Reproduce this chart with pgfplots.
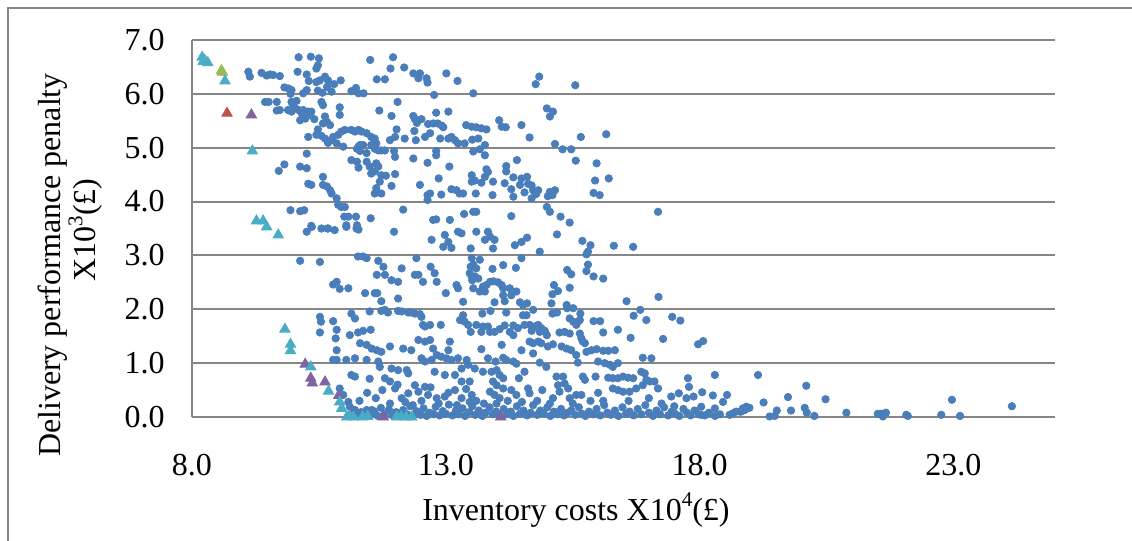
\documentclass[border=0pt]{standalone}
\usepackage{pgfplots}
\pgfplotsset{compat=1.18}
\usepackage{fontspec}
\setmainfont{Liberation Serif}
\definecolor{gridgray}{RGB}{134,134,134}
\definecolor{dotblue}{RGB}{74,126,187}
\definecolor{tcyan}{RGB}{75,172,198}
\definecolor{tgreen}{RGB}{155,187,89}
\definecolor{tred}{RGB}{192,80,77}
\definecolor{tpurple}{RGB}{128,100,162}
\newcommand{\sups}[1]{\raisebox{0.42em}{\fontsize{10.5bp}{10.5bp}\selectfont #1}}
\begin{document}
\begin{tikzpicture}[font=\fontsize{16bp}{17.5bp}\selectfont]
\useasboundingbox (-96bp,-62bp) rectangle (470bp,208.5bp);
\draw[gridgray, line width=0.75bp] (-92bp,-62bp) -- (-92bp,204.5bp) -- (470bp,204.5bp);
\begin{axis}[
  at={(0,0)}, anchor=south west,
  scale only axis, width=431.5bp, height=188.5bp,
  xmin=8, xmax=25, ymin=0, ymax=7,
  xtick={8,13,18,23}, ytick={0,1,...,7},
  axis lines*=left,
  axis line style={-, draw=gridgray, line width=1bp},
  ymajorgrids, grid style={draw=gridgray, line width=1bp},
  major tick length=0pt,
  clip=false,
  /pgf/number format/assume math mode=true,
  /pgf/number format/fixed, /pgf/number format/fixed zerofill, /pgf/number format/precision=1,
  xticklabel style={anchor=base, inner sep=0pt, yshift=-29bp},
  yticklabel style={anchor=east, inner sep=0pt, xshift=-13.5bp},
  xlabel={Inventory costs X10\sups{4}(£)},
  xlabel style={at={(axis description cs:0.4449,0)}, anchor=base, inner sep=0pt, yshift=-51.5bp},
  ylabel={Delivery performance penalty\\\hspace*{35bp}X10\sups{3}(£)},
  ylabel style={at={(axis description cs:-0.1408,0.403)}, anchor=center, align=center, inner sep=0pt},
]
\addplot[only marks, mark=*, mark size=1.85bp, color=dotblue, mark options={draw=dotblue, fill=dotblue}] coordinates {
(10.10,6.68)(10.34,6.69)(10.50,6.66)(10.48,6.53)(10.45,6.47)(11.51,6.63)(11.96,6.68)(11.91,6.47)(12.18,6.49)
(9.11,6.41)(9.14,6.32)(9.37,6.39)(9.54,6.36)(9.60,6.35)(9.73,6.33)(9.47,6.34)(10.08,6.41)(10.26,6.36)(10.30,6.24)
(10.45,6.22)(10.52,6.25)(10.62,6.32)(10.68,6.25)(10.80,6.18)(10.93,6.25)(9.82,6.12)(9.90,6.10)(9.96,6.07)(9.94,6.00)
(10.19,6.01)(10.26,6.07)(10.48,6.06)(10.57,6.02)(10.66,6.13)(10.75,6.04)(11.14,6.05)(11.23,6.11)(11.28,6.01)(11.38,6.01)
(11.64,6.27)(11.80,6.27)(12.36,6.38)(12.49,6.38)(12.46,6.29)(12.62,6.29)(12.64,6.21)(13.01,6.38)(13.23,6.24)(12.77,5.98)
(13.54,6.01)(9.44,5.85)(9.51,5.85)(9.67,5.85)(9.96,5.85)(10.06,5.87)(9.99,5.79)(10.03,5.73)(9.67,5.69)(9.73,5.70)
(9.89,5.70)(9.96,5.67)(10.10,5.70)(10.16,5.64)(10.19,5.70)(10.29,5.67)(10.32,5.61)(10.35,5.67)(10.13,5.51)(10.23,5.54)
(10.41,5.53)(10.55,5.85)(10.58,5.79)(10.91,5.75)(10.91,5.61)(10.62,5.58)(10.66,5.48)(10.72,5.42)(10.58,5.45)(10.48,5.34)
(10.45,5.24)(10.55,5.22)(10.62,5.17)(10.68,5.09)(10.29,5.20)(10.78,5.20)(10.88,5.24)(10.94,5.30)(11.01,5.33)(11.14,5.33)
(11.21,5.30)(11.28,5.33)(11.34,5.30)(11.44,5.27)(11.53,5.20)(11.60,5.17)(10.75,5.14)(10.85,5.08)(10.98,5.02)(11.63,5.08)
(11.53,5.05)(11.60,4.98)(11.67,4.95)(11.73,4.95)(11.80,4.95)(11.25,4.98)(11.31,5.05)(11.37,5.05)(11.69,5.69)(11.93,5.59)
(12.05,5.85)(12.36,5.59)(12.39,5.53)(12.43,5.46)(12.52,5.53)(12.65,5.44)(12.75,5.45)(12.84,5.45)(12.92,5.41)(12.95,5.38)
(12.81,5.65)(13.05,5.67)(12.03,5.34)(11.90,5.14)(12.00,5.20)(12.19,5.17)(12.38,5.31)(12.41,5.14)(12.59,5.20)(12.69,5.27)
(12.89,5.17)(13.05,5.17)(13.11,5.20)(13.18,5.14)(13.24,5.08)(13.37,5.08)(13.40,5.42)(13.51,5.39)(13.52,5.15)(11.98,4.94)
(12.00,4.83)(12.36,4.80)(12.81,4.94)(12.81,4.86)(12.64,4.72)(13.54,4.93)(11.28,5.02)(11.31,4.94)(11.44,4.90)(11.14,4.77)
(11.25,4.74)(11.28,4.63)(11.44,4.74)(11.50,4.65)(11.53,4.52)(11.63,4.71)(11.67,4.65)(11.60,4.56)(11.73,4.49)(11.82,4.48)
(12.00,4.51)(11.70,4.37)(11.63,4.25)(11.73,4.15)(11.60,4.15)(11.93,4.29)(12.49,4.31)(12.86,4.43)(13.07,4.65)(13.51,4.49)
(13.51,4.37)(10.26,4.89)(9.82,4.69)(9.71,4.57)(10.13,4.65)(10.26,4.62)(10.58,4.46)(10.29,4.33)(10.35,4.31)(10.58,4.31)
(10.66,4.28)(10.72,4.21)(10.75,4.15)(10.85,4.06)(10.88,3.94)(10.94,3.90)(11.01,3.90)(12.64,4.12)(12.69,4.15)(12.64,4.03)
(12.91,4.13)(13.11,4.23)(13.21,4.21)(13.27,4.15)(13.34,4.15)(12.16,3.85)(9.94,3.84)(10.13,3.82)(10.21,3.84)(11.00,3.72)
(11.08,3.72)(11.23,3.72)(11.52,3.69)(12.75,3.66)(12.81,3.67)(13.08,3.66)(13.36,3.77)(10.35,3.55)(10.55,3.50)(10.68,3.50)
(11.04,3.56)(11.25,3.56)(11.28,3.48)(13.54,3.81)
(14.84,6.32)(14.77,6.18)(15.55,6.16)(14.99,5.73)(15.11,5.67)(15.05,5.58)(14.05,5.51)(14.10,5.39)(14.18,5.38)(14.49,5.42)
(13.60,5.38)(13.70,5.36)(13.80,5.34)(13.64,5.17)(14.65,5.19)(15.66,5.20)(16.16,5.25)(13.77,5.05)(13.67,4.97)(13.77,4.86)
(15.15,5.07)(15.30,4.97)(15.47,4.97)(15.56,4.76)(15.97,4.71)(14.40,4.77)(14.19,4.66)(14.19,4.56)(13.80,4.60)(13.83,4.55)
(13.77,4.46)(13.57,4.39)(13.70,4.35)(13.93,4.37)(14.16,4.34)(14.29,4.23)(14.33,4.45)(14.46,4.31)(14.49,4.43)(14.60,4.46)
(14.62,4.33)(14.69,4.30)(14.72,4.21)(14.55,4.17)(14.78,4.14)(14.82,4.21)(14.69,4.06)(14.33,4.09)(13.59,4.15)(13.92,4.12)
(15.05,4.18)(15.15,4.21)(15.01,4.10)(15.10,4.12)(15.94,4.39)(16.21,4.43)(15.91,4.16)(16.03,4.12)(14.99,3.90)(15.05,3.81)
(13.60,3.81)(14.29,3.73)(15.26,3.72)(15.44,3.61)(17.18,3.81)
(10.26,3.44)(10.36,3.53)(10.67,3.50)(10.81,3.47)(11.04,3.53)(11.24,3.50)(11.98,3.44)(12.72,3.29)(12.98,3.38)(13.05,3.25)
(12.95,3.16)(13.11,3.14)(13.24,3.44)(13.31,3.41)(13.49,3.13)(10.13,2.90)(10.52,2.88)(11.27,2.98)(11.37,2.98)(11.44,2.95)
(11.67,2.90)(11.77,2.79)(11.64,2.64)(11.80,2.64)(11.93,2.54)(12.06,2.51)(12.13,2.76)(12.42,2.95)(12.39,2.64)(12.46,2.64)
(12.55,2.51)(12.70,2.79)(12.78,2.67)(12.82,2.51)(13.51,2.95)(13.49,2.79)(13.47,2.67)(13.51,2.61)(13.52,2.54)(10.78,2.46)
(10.85,2.51)(10.91,2.38)(11.08,2.39)(11.41,2.30)(11.60,2.30)(11.65,2.30)(11.73,2.15)(12.06,2.20)(13.21,2.45)(13.24,2.39)
(13.00,2.30)(13.34,2.14)(11.14,1.92)(11.21,1.83)(11.50,1.96)(11.73,1.97)(11.80,1.99)(11.86,1.94)(12.06,1.97)(12.13,1.96)
(12.26,1.94)(12.32,1.94)(12.39,1.92)(12.49,1.91)(12.52,1.86)(12.55,1.71)(12.59,1.68)(12.69,1.71)(12.90,1.71)(13.28,1.80)
(13.37,1.77)(13.44,1.71)(13.49,1.58)(13.34,1.89)(10.52,1.86)(10.54,1.77)(10.78,1.78)(10.85,1.62)(10.52,1.57)(11.11,1.52)
(11.27,1.57)(11.37,1.60)(11.52,1.62)(10.83,1.46)(11.31,1.37)(11.44,1.34)(11.54,1.27)(11.64,1.24)(11.73,1.21)(11.90,1.31)
(10.85,1.24)(10.85,1.06)(10.78,1.06)(11.04,1.06)(11.21,1.09)(11.44,1.06)(11.67,1.03)(11.70,0.93)(12.16,1.27)(12.32,1.24)
(12.46,1.43)(12.59,1.40)(12.69,1.43)(12.75,1.27)(12.82,1.15)(12.91,1.12)(13.01,1.09)(13.05,1.24)(13.08,1.40)(12.52,1.09)
(12.59,1.03)(12.72,1.06)(13.11,1.06)(13.24,1.09)(13.41,1.06)(13.44,0.97)(13.31,0.90)(11.93,0.90)(12.06,0.87)(12.23,0.87)
(12.26,0.81)(11.21,0.75)(11.14,0.78)(11.50,0.71)(11.80,0.72)(11.90,0.66)(12.78,0.84)(12.98,0.78)(13.18,0.78)(13.31,0.66)
(13.47,0.66)(12.00,0.53)(12.13,0.35)(12.26,0.44)(12.39,0.59)(12.46,0.47)(12.59,0.56)(12.65,0.41)(12.82,0.35)(12.98,0.38)
(13.18,0.50)(13.31,0.35)(13.51,0.41)(13.47,0.28)(10.91,0.53)(10.98,0.41)(11.08,0.28)(11.11,0.19)(11.21,0.13)(11.44,0.13)
(11.54,0.13)(11.60,0.07)
(13.60,3.44)(13.83,3.44)(13.87,3.35)(13.77,3.29)(13.96,3.29)(13.93,3.13)(14.36,3.19)(14.49,3.25)(14.60,3.33)(14.85,3.07)
(15.19,3.39)(15.69,3.27)(15.85,3.19)(15.80,3.07)(15.77,3.02)(16.31,3.18)(16.69,3.16)(13.54,2.83)(13.60,2.76)(13.67,2.92)
(13.57,2.61)(13.64,2.57)(13.54,2.39)(13.92,2.75)(14.13,2.82)(14.38,2.77)(14.49,2.95)(13.73,2.42)(13.80,2.45)(13.87,2.51)
(13.94,2.52)(14.03,2.50)(14.10,2.45)(14.13,2.39)(14.13,2.26)(14.26,2.39)(14.29,2.26)(14.39,2.33)(13.67,2.33)(13.77,2.33)
(13.96,2.13)(14.16,2.15)(14.46,2.13)(14.52,2.08)(14.60,2.11)(14.72,1.99)(13.72,1.92)(13.88,1.97)(14.19,1.94)(14.52,1.89)
(14.59,1.89)(15.39,2.73)(15.47,2.65)(15.77,2.71)(15.91,2.61)(16.10,2.57)(15.80,2.83)(15.13,2.45)(15.21,2.34)(15.10,2.28)
(15.44,2.40)(15.08,2.11)(15.10,1.92)(15.19,1.94)(15.38,2.08)(15.39,2.02)(15.51,2.02)(15.65,1.92)(15.44,1.83)(15.51,1.77)
(15.57,1.71)(15.60,1.77)(15.64,1.80)(15.91,1.78)(16.04,1.78)(16.56,2.15)(16.83,1.99)(16.70,1.88)(16.95,1.80)(17.19,2.23)
(17.46,1.86)(17.62,1.79)(13.60,1.71)(13.73,1.68)(13.83,1.68)(13.87,1.58)(13.96,1.58)(14.06,1.63)(14.16,1.70)(14.33,1.70)
(14.42,1.65)(14.55,1.71)(14.65,1.71)(14.75,1.68)(14.82,1.71)(14.88,1.65)(14.95,1.60)(14.99,1.52)(14.85,1.58)(14.69,1.60)
(13.70,1.58)(14.26,1.58)(14.33,1.52)(15.24,1.57)(15.34,1.58)(15.44,1.55)(15.64,1.55)(15.67,1.46)(15.70,1.40)(15.74,1.37)
(16.10,1.57)(16.39,1.62)(16.64,1.47)(17.28,1.45)(17.97,1.35)(18.07,1.41)(14.10,1.34)(13.70,1.26)(14.49,1.24)(14.65,1.40)
(14.72,1.37)(14.82,1.40)(14.88,1.37)(15.01,1.31)(15.11,1.35)(15.28,1.31)(15.38,1.27)(15.47,1.24)(15.57,1.15)(15.77,1.21)
(15.87,1.24)(15.97,1.26)(16.10,1.23)(16.20,1.23)(16.33,1.24)(13.83,1.09)(13.98,1.03)(14.13,1.10)(14.19,1.06)(14.33,1.03)
(14.39,0.99)(14.55,0.84)(14.72,1.18)(14.85,1.01)(14.98,0.93)(15.60,1.01)(16.00,1.03)(16.13,1.00)(16.23,0.97)(16.29,0.93)
(16.39,1.00)(16.88,1.10)(17.05,1.09)(13.57,0.90)(13.73,0.84)(13.90,0.84)(14.00,0.87)(14.06,0.78)(14.13,0.72)(13.93,0.66)
(14.00,0.59)(14.13,0.53)(13.87,0.47)(14.06,0.35)(13.96,0.41)(14.44,0.72)(14.29,0.50)(14.39,0.41)(14.62,0.53)(14.65,0.44)
(15.18,0.75)(15.31,0.75)(15.34,0.62)(15.21,0.59)(15.24,0.47)(15.41,0.53)(15.11,0.35)(15.44,0.35)(15.57,0.41)(15.67,0.41)
(15.70,0.75)(15.74,0.69)(15.95,0.75)(16.20,0.73)(16.29,0.72)(16.39,0.72)(16.49,0.75)(16.59,0.73)(16.69,0.72)(16.85,0.84)
(16.92,0.81)(16.29,0.53)(16.39,0.50)(16.49,0.47)(16.62,0.47)(16.75,0.53)(16.88,0.59)(17.02,0.66)(16.95,0.69)(17.11,0.66)
(17.18,0.53)(17.77,0.72)(17.79,0.56)(17.59,0.44)(17.44,0.38)(17.74,0.35)(17.88,0.38)(18.05,0.46)(18.26,0.40)(18.54,0.41)
(18.30,0.78)(19.15,0.78)(18.92,0.19)(18.85,0.13)(18.79,0.10)(18.66,0.07)(18.59,0.04)
(18.46,0.28)(18.03,0.19)(18.03,0.04)(18.30,0.16)(18.30,0.02)(18.72,0.10)(18.82,0.10)(18.85,0.16)(18.98,0.17)(18.89,0.13)
(19.26,0.27)(19.38,0.01)(19.48,0.02)(19.52,0.12)(19.74,0.37)(19.80,0.12)(20.10,0.58)(20.07,0.17)(20.11,0.08)(20.26,0.02)
(20.48,0.33)(20.89,0.08)(21.51,0.06)(21.61,0.01)(21.67,0.08)(21.58,0.06)(22.07,0.04)(22.10,0.02)(22.76,0.04)(22.97,0.32)
(23.13,0.02)(24.15,0.20)
(11.15,0.04)(11.25,0.02)(11.33,0.09)(11.50,0.03)(11.58,0.11)(11.66,0.02)(11.72,0.17)(11.80,0.06)(11.88,0.14)(11.95,0.03)
(12.02,0.09)(12.10,0.02)(12.16,0.13)(12.24,0.05)(12.30,0.20)(12.36,0.03)(12.42,0.11)(12.50,0.04)(12.56,0.16)(12.62,0.02)
(12.68,0.08)(12.76,0.05)(12.80,0.19)(12.88,0.03)(12.94,0.11)(13.00,0.06)(13.06,0.23)(13.13,0.03)(13.20,0.12)(13.26,0.05)
(13.33,0.16)(13.38,0.02)(13.46,0.09)(13.52,0.20)(13.58,0.04)(13.65,0.12)(13.72,0.02)(13.78,0.08)(13.86,0.18)(13.92,0.05)
(13.99,0.10)(14.05,0.03)(14.14,0.15)(14.20,0.05)(14.28,0.10)(14.33,0.02)(14.40,0.20)(14.46,0.06)(14.53,0.12)(14.60,0.03)
(14.67,0.08)(14.72,0.22)(14.80,0.04)(14.86,0.12)(14.93,0.06)(15.00,0.18)(15.06,0.02)(15.13,0.10)(15.20,0.05)(15.27,0.15)
(15.33,0.03)(15.40,0.08)(15.47,0.12)(15.55,0.04)(15.62,0.18)(15.68,0.06)(15.75,0.02)(15.82,0.10)(15.90,0.05)(15.97,0.15)
(16.04,0.03)(16.12,0.22)(16.18,0.08)(16.25,0.04)(16.33,0.12)(16.40,0.02)(16.48,0.18)(16.55,0.06)(16.62,0.10)(16.70,0.03)
(16.78,0.15)(16.85,0.05)(16.93,0.22)(17.00,0.08)(17.08,0.02)(17.15,0.12)(17.22,0.05)(17.30,0.18)(17.38,0.03)(17.45,0.10)
(17.52,0.06)(17.60,0.02)(17.68,0.15)(17.75,0.08)(17.82,0.03)(17.90,0.12)(17.98,0.05)(18.10,0.03)(18.18,0.08)(18.40,0.05)
(11.30,0.30)(11.45,0.45)(11.62,0.35)(11.75,0.50)(11.90,0.25)(12.05,0.60)(12.20,0.28)(12.35,0.22)(12.52,0.30)(12.70,0.55)
(12.86,0.25)(13.05,0.45)(13.22,0.22)(13.40,0.52)(13.60,0.30)(13.75,0.25)(14.00,0.25)(14.22,0.30)(14.50,0.28)(14.80,0.30)
(14.90,0.50)(15.05,0.25)(15.50,0.25)(15.85,0.30)(16.00,0.45)(16.10,0.30)(16.60,0.30)(17.00,0.35)(17.25,0.25)(17.50,0.20)
};
\addplot[only marks, mark=triangle*, mark size=3bp, color=tred, mark options={draw=tred, fill=tred}] coordinates {
(8.69,5.64)
};
\addplot[only marks, mark=triangle*, mark size=3bp, color=tgreen, mark options={draw=tgreen, fill=tgreen}] coordinates {
(8.58,6.43)(8.60,6.40)
};
\addplot[only marks, mark=triangle*, mark size=3bp, color=tpurple, mark options={draw=tpurple, fill=tpurple}] coordinates {
(9.17,5.61)(10.23,0.98)(10.34,0.72)(10.37,0.63)(10.62,0.65)(10.89,0.40)(11.77,0.00)(14.08,0.00)
};
\addplot[only marks, mark=triangle*, mark size=3bp, color=tcyan, mark options={draw=tcyan, fill=tcyan}] coordinates {
(8.20,6.68)(8.25,6.62)(8.31,6.58)(8.22,6.60)(8.65,6.24)(9.19,4.94)(9.27,3.64)(9.40,3.64)(9.47,3.53)(9.70,3.38)
(9.83,1.63)(9.94,1.35)(9.94,1.23)(10.34,0.93)(10.69,0.48)(10.91,0.28)(10.95,0.16)(11.05,0.00)(11.10,0.02)(11.18,0.00)
(11.36,0.00)(11.46,0.01)(12.03,0.00)(12.12,0.01)(12.22,0.00)(12.33,0.00)
};
\end{axis}
\end{tikzpicture}
\end{document}
